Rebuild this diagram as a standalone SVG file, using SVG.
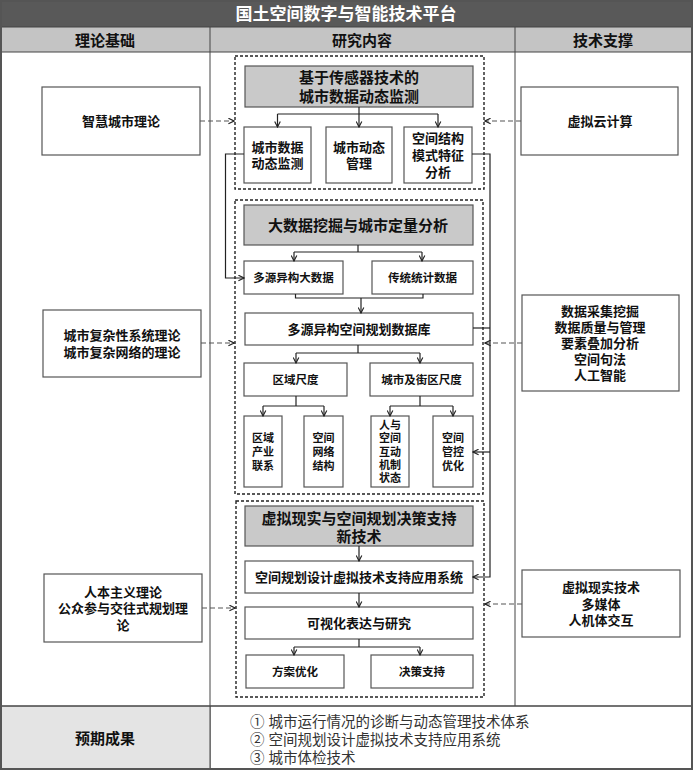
<svg xmlns="http://www.w3.org/2000/svg" width="693" height="771" viewBox="0 0 693 771">
<style>
text{font-family:"Liberation Sans","Noto Sans CJK SC",sans-serif;fill:#111;text-anchor:middle}
.b{font-weight:bold}
.box{fill:#fff;stroke:#555;stroke-width:1.2}
.gbox{fill:#c9c9c9;stroke:#555;stroke-width:1.2}
.dash{fill:none;stroke:#222;stroke-width:1.4;stroke-dasharray:3,2}
.ln{fill:none;stroke:#222;stroke-width:1.2}
.dl{fill:none;stroke:#555;stroke-width:1.2;stroke-dasharray:5,3}
.grid{stroke:#444;stroke-width:1;fill:none}
</style>
<defs>
<marker id="ar" viewBox="0 0 10 10" refX="9" refY="5" markerWidth="7" markerHeight="7" orient="auto" markerUnits="userSpaceOnUse">
<path d="M1,1 L9,5 L1,9" fill="none" stroke="#222" stroke-width="1.6"/>
</marker>
</defs>
<rect x="0" y="0" width="693" height="771" fill="#fff"/>
<g id="frame">
<rect x="1" y="1" width="691" height="26" fill="#595959"/>
<text x="346" y="19.5" font-size="17" class="b" style="fill:#fff">国土空间数字与智能技术平台</text>
<rect x="1" y="27" width="691" height="25" fill="#c4c4c4" stroke="#444" stroke-width="1"/>
<text x="105" y="45.5" font-size="15" class="b">理论基础</text>
<text x="362" y="45.5" font-size="15" class="b">研究内容</text>
<text x="603" y="45.5" font-size="15" class="b">技术支撑</text>
<line class="grid" x1="210" y1="27" x2="210" y2="769"/>
<line class="grid" x1="515" y1="27" x2="515" y2="706"/>
<rect x="1" y="706" width="209" height="63" fill="#e4e4e4"/>
<line x1="1" y1="706" x2="692" y2="706" stroke="#444" stroke-width="1.6"/>
<line class="grid" x1="210" y1="706" x2="210" y2="769"/>
<rect x="1" y="1" width="691" height="768" fill="none" stroke="#555" stroke-width="2"/>
<text x="105" y="744" font-size="15" class="b">预期成果</text>
<text font-size="14.5" style="text-anchor:start;fill:#333"><tspan x="250" y="727">① 城市运行情况的诊断与动态管理技术体系</tspan><tspan x="250" y="745">② 空间规划设计虚拟技术支持应用系统</tspan><tspan x="250" y="763">③ 城市体检技术</tspan></text>
</g>
<g id="containers">
<rect class="dash" x="235" y="56" width="249" height="133"/>
<rect class="dash" x="235" y="200" width="248" height="294"/>
<rect class="dash" x="236" y="501" width="248" height="196"/>
</g>
<g id="theory1"><rect class="box" x="42" y="87" width="158" height="68"/>
<text x="121" y="126" font-size="13" class="b">智慧城市理论</text></g>
<g id="theory2"><rect class="box" x="43" y="310" width="158" height="67"/>
<text font-size="13" class="b"><tspan x="122" y="339.5">城市复杂性系统理论</tspan><tspan x="122" y="356.5">城市复杂网络的理论</tspan></text></g>
<g id="theory3"><rect class="box" x="44" y="574" width="158" height="68"/>
<text font-size="13" class="b"><tspan x="123" y="596.5">人本主义理论</tspan><tspan x="123" y="613">公众参与交往式规划理</tspan><tspan x="123" y="629.5">论</tspan></text></g>
<g id="tech1"><rect class="box" x="521" y="87" width="157" height="68"/>
<text x="600" y="126" font-size="13" class="b">虚拟云计算</text></g>
<g id="tech2"><rect class="box" x="522" y="295" width="157" height="96"/>
<text font-size="13" class="b"><tspan x="600" y="315.5">数据采集挖掘</tspan><tspan x="600" y="331.5">数据质量与管理</tspan><tspan x="600" y="347.5">要素叠加分析</tspan><tspan x="600" y="363.5">空间句法</tspan><tspan x="600" y="379.5">人工智能</tspan></text></g>
<g id="tech3"><rect class="box" x="522" y="570" width="158" height="67"/>
<text font-size="13" class="b"><tspan x="601" y="592">虚拟现实技术</tspan><tspan x="601" y="608.5">多媒体</tspan><tspan x="601" y="625">人机体交互</tspan></text></g>
<g id="s1head"><rect class="gbox" x="245" y="66" width="228" height="41"/>
<text font-size="15" class="b"><tspan x="359" y="82.5">基于传感器技术的</tspan><tspan x="359" y="101.5">城市数据动态监测</tspan></text></g>
<g id="s1a"><rect class="box" x="244" y="127" width="67" height="56"/>
<text font-size="13" class="b"><tspan x="277.5" y="151.5">城市数据</tspan><tspan x="277.5" y="168">动态监测</tspan></text></g>
<g id="s1b"><rect class="box" x="326" y="127" width="66" height="56"/>
<text font-size="13" class="b"><tspan x="359" y="151.5">城市动态</tspan><tspan x="359" y="168">管理</tspan></text></g>
<g id="s1c"><rect class="box" x="404" y="127" width="68" height="56"/>
<text font-size="13" class="b"><tspan x="438" y="142.5">空间结构</tspan><tspan x="438" y="159.5">模式特征</tspan><tspan x="438" y="176.5">分析</tspan></text></g>
<g id="s2head"><rect class="gbox" x="244" y="205" width="229" height="40"/>
<text x="358" y="230.5" font-size="15" class="b">大数据挖掘与城市定量分析</text></g>
<g id="s2a"><rect class="box" x="244" y="261" width="99" height="33"/>
<text x="293.5" y="282" font-size="11.5" class="b">多源异构大数据</text></g>
<g id="s2b"><rect class="box" x="372" y="261" width="101" height="33"/>
<text x="422.5" y="282" font-size="11.5" class="b">传统统计数据</text></g>
<g id="s2db"><rect class="box" x="245" y="313" width="228" height="32"/>
<text x="359" y="333.5" font-size="13" class="b">多源异构空间规划数据库</text></g>
<g id="s2r"><rect class="box" x="244" y="363" width="103" height="33"/>
<text x="295.5" y="384" font-size="11.5" class="b">区域尺度</text></g>
<g id="s2c"><rect class="box" x="370" y="363" width="103" height="33"/>
<text x="421.5" y="384" font-size="11.5" class="b">城市及街区尺度</text></g>
<g id="s2r1"><rect class="box" x="244" y="416" width="38" height="71"/>
<text font-size="11" class="b"><tspan x="263" y="442">区域</tspan><tspan x="263" y="456">产业</tspan><tspan x="263" y="470">联系</tspan></text></g>
<g id="s2r2"><rect class="box" x="304" y="416" width="39" height="71"/>
<text font-size="11" class="b"><tspan x="323.5" y="442">空间</tspan><tspan x="323.5" y="456">网络</tspan><tspan x="323.5" y="470">结构</tspan></text></g>
<g id="s2c1"><rect class="box" x="371" y="416" width="38" height="71"/>
<text font-size="11" class="b"><tspan x="390" y="429">人与</tspan><tspan x="390" y="442.3">空间</tspan><tspan x="390" y="455.6">互动</tspan><tspan x="390" y="469">机制</tspan><tspan x="390" y="482.3">状态</tspan></text></g>
<g id="s2c2"><rect class="box" x="433" y="416" width="40" height="71"/>
<text font-size="11" class="b"><tspan x="453" y="442">空间</tspan><tspan x="453" y="456">管控</tspan><tspan x="453" y="470">优化</tspan></text></g>
<g id="s3head"><rect class="gbox" x="245" y="506" width="228" height="40"/>
<text font-size="15" class="b"><tspan x="359" y="523.5">虚拟现实与空间规划决策支持</tspan><tspan x="359" y="541.5">新技术</tspan></text></g>
<g id="s3a"><rect class="box" x="245" y="561" width="228" height="32"/>
<text x="359" y="581.5" font-size="13" class="b">空间规划设计虚拟技术支持应用系统</text></g>
<g id="s3b"><rect class="box" x="245" y="607" width="228" height="32"/>
<text x="359" y="627.5" font-size="13" class="b">可视化表达与研究</text></g>
<g id="s3c"><rect class="box" x="246" y="655" width="98" height="33"/>
<text x="295" y="676" font-size="11.5" class="b">方案优化</text></g>
<g id="s3d"><rect class="box" x="371" y="655" width="102" height="33"/>
<text x="422" y="676" font-size="11.5" class="b">决策支持</text></g>
<g id="connectors">
<path class="dl" d="M200,121 H234" marker-end="url(#ar)"/>
<path class="dl" d="M201,343 H234" marker-end="url(#ar)"/>
<path class="dl" d="M202,608 H235" marker-end="url(#ar)"/>
<path class="dl" d="M521,121 H485" marker-end="url(#ar)"/>
<path class="dl" d="M522,343 H485" marker-end="url(#ar)"/>
<path class="dl" d="M522,604 H485" marker-end="url(#ar)"/>
<path class="ln" d="M359,107 V114"/>
<path class="ln" d="M277.5,114 H438"/>
<path class="ln" d="M277.5,114 V127" marker-end="url(#ar)"/>
<path class="ln" d="M359,114 V127" marker-end="url(#ar)"/>
<path class="ln" d="M438,114 V127" marker-end="url(#ar)"/>
<path class="ln" d="M244,154 H225.5 V278 H244" marker-end="url(#ar)"/>
<path class="ln" d="M472,154 H490 V577 H473" marker-end="url(#ar)"/>
<path class="ln" d="M473,328 H490"/>
<path class="ln" d="M490,452 H473" marker-end="url(#ar)"/>
<path class="ln" d="M358,245 V252"/>
<path class="ln" d="M294,252 H422"/>
<path class="ln" d="M294,252 V261" marker-end="url(#ar)"/>
<path class="ln" d="M422,252 V261" marker-end="url(#ar)"/>
<path class="ln" d="M295.5,294 V298 H423 V294"/>
<path class="ln" d="M361,298 V313" marker-end="url(#ar)"/>
<path class="ln" d="M358,345 V353"/>
<path class="ln" d="M296,353 H420"/>
<path class="ln" d="M296,353 V363" marker-end="url(#ar)"/>
<path class="ln" d="M420,353 V363" marker-end="url(#ar)"/>
<path class="ln" d="M296,396 V406"/>
<path class="ln" d="M263,406 H324"/>
<path class="ln" d="M263,406 V416" marker-end="url(#ar)"/>
<path class="ln" d="M324,406 V416" marker-end="url(#ar)"/>
<path class="ln" d="M420,396 V406"/>
<path class="ln" d="M390,406 H453"/>
<path class="ln" d="M390,406 V416" marker-end="url(#ar)"/>
<path class="ln" d="M453,406 V416" marker-end="url(#ar)"/>
<path class="ln" d="M359,546 V561" marker-end="url(#ar)"/>
<path class="ln" d="M359,593 V607" marker-end="url(#ar)"/>
<path class="ln" d="M359,639 V647"/>
<path class="ln" d="M294,647 H420"/>
<path class="ln" d="M294,647 V655" marker-end="url(#ar)"/>
<path class="ln" d="M420,647 V655" marker-end="url(#ar)"/>
</g>
</svg>
